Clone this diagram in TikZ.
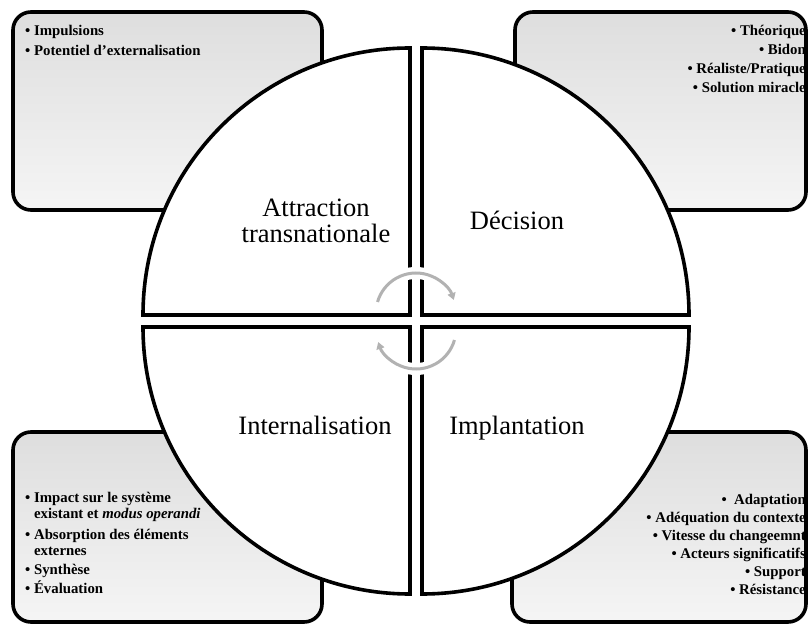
\documentclass[tikz,border=0pt]{standalone}
\usepackage{fontspec}
\setmainfont{Liberation Serif}
\usetikzlibrary{arrows.meta}
\begin{document}
\begin{tikzpicture}[x=1pt,y=-1pt,
  box/.style={line width=3.6pt, rounded corners=18pt, top color=black!13, bottom color=black!4, draw=black},
  quad/.style={line width=3.6pt, fill=white, draw=black, line join=miter},
  title/.style={font=\fontsize{26.5}{27}\selectfont, inner sep=0pt, anchor=base},
  itl/.style={font=\bfseries\fontsize{14.8}{17}\selectfont, inner sep=0pt, anchor=base west},
  itr/.style={font=\bfseries\fontsize{14.8}{17}\selectfont, inner sep=0pt, anchor=base east},
  halo/.style={draw=white, line width=12pt},
  cyc/.style={draw=black!30, line width=3pt, -{Triangle[length=7pt,width=8pt]}}
]
\useasboundingbox (0,0) rectangle (809,628);
% side boxes
\draw[box] (13,12) rectangle (322,210);
\draw[box] (515,12) rectangle (806,210);
\draw[box] (13,432) rectangle (322,622);
\draw[box] (512,432) rectangle (806,622);
% quadrants
\draw[quad] (410,315) -- (143,315) arc[start angle=180,end angle=270,radius=267] -- cycle;
\draw[quad] (422,315) -- (422,48) arc[start angle=270,end angle=360,radius=267] -- cycle;
\draw[quad] (422,327) -- (689,327) arc[start angle=0,end angle=90,radius=267] -- cycle;
\draw[quad] (410,327) -- (410,594) arc[start angle=90,end angle=180,radius=267] -- cycle;
% titles
\node[title] (attr1) at (316,217) {Attraction};
\node[title] (attr2) at (316,243) {transnationale};
\node[title] (dec) at (517,230) {Décision};
\node[title] (intern) at (315,434) {Internalisation};
\node[title] (impl) at (517,434) {Implantation};
% cycle arrows
\draw[halo] (416,313) ++(196:40) arc[start angle=196,end angle=341,radius=40];
\draw[cyc] (416,313) ++(196:40) arc[start angle=196,end angle=341,radius=40];
\draw[halo] (416,329) ++(16:40) arc[start angle=16,end angle=161,radius=40];
\draw[cyc] (416,329) ++(16:40) arc[start angle=16,end angle=161,radius=40];
% top-left items
\node[itl] (tl1) at (25,36) {• Impulsions};
\node[itl] (tl2) at (25,56) {• Potentiel d’externalisation};
% top-right items
\node[itr] (tr1) at (806,36) {• Théorique};
\node[itr] (tr2) at (806,55) {• Bidon};
\node[itr] (tr3) at (806,74) {• Réaliste/Pratique};
\node[itr] (tr4) at (806,93) {• Solution miracle};
% bottom-left items
\node[itl] (bl1) at (25,502) {• Impact sur le système};
\node[itl] (bl2) at (25,518) {\phantom{• }existant et \textit{modus operandi}};
\node[itl] (bl3) at (25,539) {• Absorption des éléments};
\node[itl] (bl4) at (25,555) {\phantom{• }externes};
\node[itl] (bl5) at (25,574) {• Synthèse};
\node[itl] (bl6) at (25,593) {• Évaluation};
% bottom-right items
\node[itr] (br1) at (806,504) {•\ \ Adaptation};
\node[itr] (br2) at (806,522) {• Adéquation du contexte};
\node[itr] (br3) at (806,540) {• Vitesse du changeemnt};
\node[itr] (br4) at (806,558) {• Acteurs significatifs};
\node[itr] (br5) at (806,576) {• Support};
\node[itr] (br6) at (806,594) {• Résistance};
\end{tikzpicture}
\end{document}
